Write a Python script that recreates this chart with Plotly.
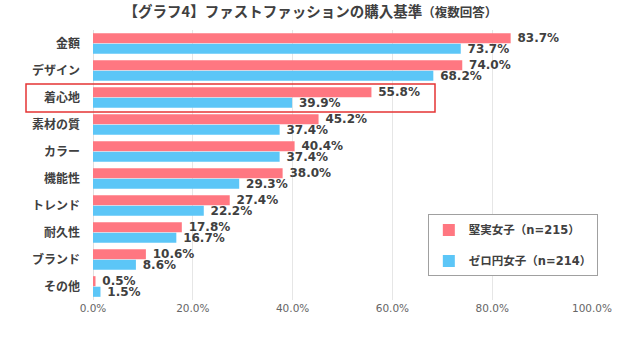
import plotly.graph_objects as go

categories = ["金額", "デザイン", "着心地", "素材の質", "カラー", "機能性", "トレンド", "耐久性", "ブランド", "その他"]
kenjitsu = [83.7, 74.0, 55.8, 45.2, 40.4, 38.0, 27.4, 17.8, 10.6, 0.5]
zeroen = [73.7, 68.2, 39.9, 37.4, 37.4, 29.3, 22.2, 16.7, 8.6, 1.5]
series_names = ["堅実女子（n=215）", "ゼロ円女子（n=214）"]
tick_vals = [0, 20, 40, 60, 80, 100]
tick_text = ["0.0%", "20.0%", "40.0%", "60.0%", "80.0%", "100.0%"]

FONT = "Noto Sans CJK JP"
MIX = "DejaVu Sans, Noto Sans CJK JP"
RED = "#FF7781"
BLUE = "#5CC6F7"

fig = go.Figure()
for name, vals, col, grp in [(series_names[0], kenjitsu, RED, "a"), (series_names[1], zeroen, BLUE, "b")]:
    fig.add_trace(go.Bar(
        y=categories, x=vals, name=f"<b>{name}</b>", orientation="h",
        marker=dict(color=col, line=dict(width=0)),
        text=vals, texttemplate="\u00a0<b>%{x:.1f}%</b>", textposition="outside",
        textfont=dict(family="DejaVu Sans", size=12, color="#404040"),
        constraintext="none", cliponaxis=False, legendgroup=grp,
    ))

fig.update_layout(
    width=640, height=351,
    margin=dict(l=93, r=48, t=30, b=51),
    paper_bgcolor="white", plot_bgcolor="white",
    barmode="group", bargap=0.22, bargroupgap=0.04,
    font=dict(family=FONT, color="#404040"),
    title=dict(
        text="<b>【グラフ4】ファストファッションの購入基準</b><b><span style='font-size:12.5px'>（複数回答）</span></b>",
        x=0.485, xanchor="center", y=0.965, yanchor="middle",
        font=dict(family=FONT, size=14.5, color="#404040"),
    ),
    xaxis=dict(
        range=[0, 100], tickvals=tick_vals, ticktext=tick_text,
        showgrid=True, gridcolor="#E6E6E6", gridwidth=1,
        zeroline=True, zerolinecolor="#E0E0E0", zerolinewidth=1,
        tickfont=dict(family="DejaVu Sans", size=10.5, color="#666666"),
        ticks="", ticklen=0, showline=False,
    ),
    yaxis=dict(
        autorange="reversed", ticks="", showline=False,
        tickfont=dict(family=FONT, size=12, color="#404040"),
        ticklabelstandoff=12,
        tickvals=categories, ticktext=[f"<b>{c}</b>" for c in categories],
    ),
    legend=dict(
        x=0.671, y=0.317, xanchor="left", yanchor="top",
        bordercolor="#A0A0A0", borderwidth=1, bgcolor="white",
        font=dict(family=MIX, size=11.5, color="#404040"),
        tracegroupgap=12, itemwidth=30, traceorder="grouped",
    ),
    showlegend=True,
)

# highlight rectangle around 着心地
fig.add_shape(type="rect", xref="paper", yref="y",
              x0=-67 / 499, x1=342 / 499, y0=1.5, y1=2.5 + 0.04,
              line=dict(color="#E53535", width=1.5), fillcolor="rgba(0,0,0,0)")

fig.write_html("out.html")
